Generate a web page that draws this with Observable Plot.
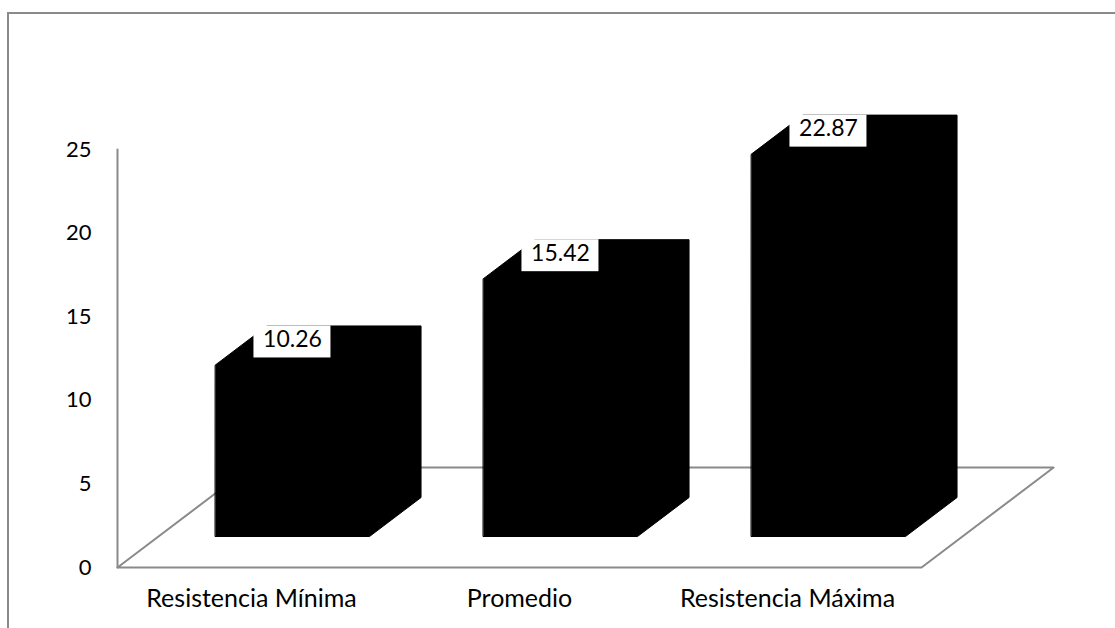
<!DOCTYPE html>
<html>
<head>
<meta charset="utf-8">
<script src="https://cdn.jsdelivr.net/npm/d3@7"></script>
<script src="https://cdn.jsdelivr.net/npm/@observablehq/plot@0.6"></script>
<style>
  html, body { margin: 0; padding: 0; background: #fff; overflow: hidden; }
  #wrap { position: relative; width: 1115px; height: 628px; overflow: hidden; }
  #frame { position: absolute; left: 7px; top: 12px; width: 1200px; height: 800px;
           border: 2px solid #8a8a8a; box-sizing: border-box; }
  #chart { position: absolute; left: 0; top: 0; }
  svg { font-family: Lato, "Open Sans", sans-serif; }
</style>
</head>
<body>
<div id="wrap"><div id="frame"></div><div id="chart"></div></div>
<script>
// ---- data ----
const categories = ["Resistencia Mínima", "Promedio", "Resistencia Máxima"];
const values = [10.26, 15.42, 22.87];
const valueLabels = ["10.26", "15.42", "22.87"];
const yTicks = [0, 5, 10, 15, 20, 25];

// ---- 3D geometry (in scale units) ----
const depthX = 0.493;   // floor depth along x (category units)
const depthY = 5.98;    // floor depth along y (value units)
const barFront = 0.31, barBack = 0.70, halfW = 0.2875;
const n = categories.length;

const floor = [
  {x: 0, y: 0}, {x: n, y: 0}, {x: n + depthX, y: depthY},
  {x: depthX, y: depthY}, {x: 0, y: 0}
];
const axisLine = [{x: 0, y: 0}, {x: 0, y: 25}];

const barPts = [];
values.forEach((v, i) => {
  const xl = i + 0.5 - halfW, xr = i + 0.5 + halfW;
  const f = barFront, b = barBack;
  [[xl + f*depthX, f*depthY], [xr + f*depthX, f*depthY], [xr + b*depthX, b*depthY],
   [xr + b*depthX, v + b*depthY], [xl + b*depthX, v + b*depthY], [xl + f*depthX, v + f*depthY]]
    .forEach(([x, y]) => barPts.push({bar: categories[i], x, y}));
});

const labelData = values.map((v, i) => ({
  x: i + 0.5 + barFront * depthX, y: v + barBack * depthY, text: valueLabels[i]
}));
const catData = categories.map((c, i) => ({x: i + 0.5, y: 0, text: c}));

const gray = "#8a8a8a";
const chart = Plot.plot({
  width: 1115, height: 628,
  marginLeft: 117, marginRight: 194, marginTop: 149, marginBottom: 61,
  x: {type: "linear", domain: [0, n], axis: null},
  y: {domain: [0, 25], axis: null},
  style: {fontFamily: "Lato, 'Open Sans', sans-serif", background: "transparent"},
  marks: [
    Plot.line(floor, {x: "x", y: "y", stroke: gray, strokeWidth: 2}),
    Plot.line(axisLine, {x: "x", y: "y", stroke: gray, strokeWidth: 2}),
    Plot.axisY({ticks: yTicks, tickSize: 0, tickPadding: 26, fontSize: 22, fill: "#000", label: null, tickFormat: d => String(d)}),
    Plot.line(barPts, {x: "x", y: "y", z: "bar", fill: "#000", stroke: "#000", strokeWidth: 1, curve: "linear-closed"}),
    Plot.rect(labelData, {x1: "x", x2: "x", y1: "y", y2: "y", fill: "#fff",
      insetLeft: -38.5, insetRight: -38.5, insetTop: 0, insetBottom: -32}),
    Plot.text(labelData, {x: "x", y: "y", text: "text", lineAnchor: "bottom", dy: 21, fontSize: 23, fill: "#000"}),
    Plot.text(catData, {x: "x", y: "y", text: "text", lineAnchor: "bottom", dy: 39, fontSize: 25, fill: "#000"})
  ]
});
document.getElementById("chart").appendChild(chart);
</script>
</body>
</html>
